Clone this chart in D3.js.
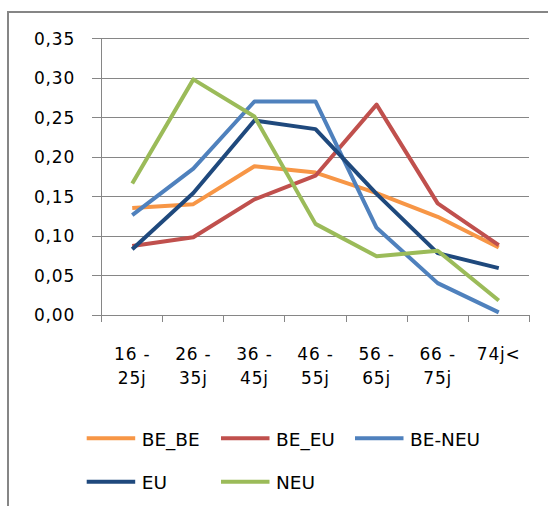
<!DOCTYPE html>
<html>
<head>
<meta charset="utf-8">
<script src="https://cdn.jsdelivr.net/npm/d3@7"></script>
<style>
  html, body { margin: 0; padding: 0; background: #fff; }
  svg { display: block; }
  text { font-family: "DejaVu Sans", Verdana, sans-serif; fill: #000; }
</style>
</head>
<body>
<svg id="chart" width="548" height="506"></svg>
<script>
// ---- data ----
const categories = ["16 - 25j", "26 - 35j", "36 - 45j", "46 - 55j", "56 - 65j", "66 - 75j", "74j<"];
const categoryLines = [["16 -", "25j"], ["26 -", "35j"], ["36 -", "45j"], ["46 -", "55j"], ["56 -", "65j"], ["66 -", "75j"], ["74j<"]];
const seriesNames = ["BE_BE", "BE_EU", "BE-NEU", "EU", "NEU"];
const BE_BE  = [0.135, 0.140, 0.188, 0.180, 0.154, 0.124, 0.085];
const BE_EU  = [0.087, 0.098, 0.146, 0.176, 0.266, 0.141, 0.088];
const BE_NEU = [0.126, 0.185, 0.270, 0.270, 0.110, 0.040, 0.003];
const EU     = [0.083, 0.154, 0.246, 0.235, 0.153, 0.078, 0.059];
const NEU    = [0.166, 0.298, 0.251, 0.115, 0.074, 0.081, 0.018];
const yTicks = [0, 0.05, 0.10, 0.15, 0.20, 0.25, 0.30, 0.35];
const colors = ["#F79646", "#C0504D", "#4F81BD", "#1F497D", "#9BBB59"];

const seriesValues = [BE_BE, BE_EU, BE_NEU, EU, NEU];
const series = seriesNames.map((n, i) => ({ name: n, values: seriesValues[i], color: colors[i] }));

// ---- layout ----
const svg = d3.select("#chart");
const plot = { left: 101.7, right: 529.3, top: 38.3, bottom: 314.7 };
const gridCol = "#868686";

// outer border
svg.append("rect")
  .attr("x", 8).attr("y", 12)
  .attr("width", 560).attr("height", 520)
  .attr("fill", "none").attr("stroke", gridCol).attr("stroke-width", 2);

const x = d3.scaleBand().domain(categories).range([plot.left, plot.right]).padding(0);
const y = d3.scaleLinear().domain([0, 0.35]).range([plot.bottom, plot.top]);
const fmt = v => d3.format(".2f")(v).replace(".", ",");

// gridlines + y axis ticks (gridlines extend left as tick marks)
const yAxis = d3.axisLeft(y).tickValues(yTicks).tickSize(plot.right - plot.left + 9.7).tickFormat(fmt).tickPadding(17);
const gy = svg.append("g").attr("transform", `translate(${plot.right},0)`).call(yAxis);
gy.select(".domain").remove();
gy.selectAll(".tick line").attr("stroke", gridCol).attr("stroke-width", 1).attr("shape-rendering", "crispEdges");
gy.selectAll(".tick text")
  .attr("font-size", 17).attr("letter-spacing", "0.8px")
  .attr("font-family", "DejaVu Sans, Verdana, sans-serif")
  .attr("fill", "#000").attr("dy", "0.36em");

// y axis line
svg.append("line")
  .attr("x1", plot.left).attr("x2", plot.left)
  .attr("y1", plot.top).attr("y2", plot.bottom + 7)
  .attr("stroke", gridCol).attr("stroke-width", 1).attr("shape-rendering", "crispEdges");

// x axis ticks at category boundaries
const xAxis = d3.axisBottom(x).tickSize(0).tickFormat("");
const gx = svg.append("g").attr("transform", `translate(0,${plot.bottom})`).call(xAxis);
gx.select(".domain").remove();
gx.selectAll(".tick").remove();
const boundaries = categories.map(c => x(c)).concat([x(categories[categories.length - 1]) + x.bandwidth()]);
gx.selectAll("line.bt").data(boundaries).join("line")
  .attr("class", "bt")
  .attr("x1", d => d).attr("x2", d => d)
  .attr("y1", 0).attr("y2", 7)
  .attr("stroke", gridCol).attr("stroke-width", 1).attr("shape-rendering", "crispEdges");

// x labels
const cx = c => x(c) + x.bandwidth() / 2;
const xl = svg.append("g");
categories.forEach((c, i) => {
  const t = xl.append("text")
    .attr("x", cx(c)).attr("y", 360)
    .attr("text-anchor", "middle")
    .attr("font-size", 17).attr("letter-spacing", "0.8px");
  categoryLines[i].forEach((ln, j) => {
    t.append("tspan").attr("x", cx(c)).attr("y", 360 + j * 24).text(ln);
  });
});

// lines
const line = d3.line().x((d, i) => cx(categories[i])).y(d => y(d));
svg.append("g").selectAll("path").data(series).join("path")
  .attr("d", d => line(d.values))
  .attr("fill", "none")
  .attr("stroke", d => d.color)
  .attr("stroke-width", 4)
  .attr("stroke-linejoin", "round")
  .attr("stroke-linecap", "butt");

// legend
const legPos = [[86.7, 438.3], [221, 438.3], [355, 438.3], [86.7, 481.7], [221, 481.7]];
const lg = svg.append("g");
series.forEach((s, i) => {
  const [lx, ly] = legPos[i];
  lg.append("line")
    .attr("x1", lx).attr("x2", lx + 48.5)
    .attr("y1", ly).attr("y2", ly)
    .attr("stroke", s.color).attr("stroke-width", 4);
  lg.append("text")
    .attr("x", lx + 55).attr("y", ly + 7.5)
    .attr("font-size", 18.5)
    .text(s.name);
});
</script>
</body>
</html>
